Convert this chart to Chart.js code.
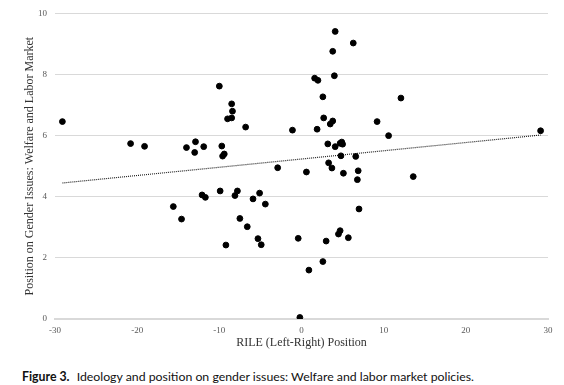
<!DOCTYPE html>
<html>
<head>
<meta charset="utf-8">
<script src="https://cdn.jsdelivr.net/npm/chart.js@4/dist/chart.umd.min.js"></script>
<style>
  body { margin: 0; background: #fff; }
  #wrap { position: relative; width: 564px; height: 360px; }
  #caption {
    position: absolute; left: 22px; top: 369px;
    font-family: Lato, "Open Sans", sans-serif; font-size: 12.3px; color: #111;
    white-space: nowrap;
  }
  #caption b { font-weight: 700; margin-right: 4px; }
</style>
</head>
<body>
<div id="wrap"><canvas id="fig"></canvas></div>
<div id="caption"><b>Figure 3.</b> Ideology and position on gender issues: Welfare and labor market policies.</div>
<script>
// party positions
const rile = [
  -29.1, -20.8, -19.1, -14.0, -13.0, -12.9, -11.9, -10.0, -9.7, -9.6,
  -9.4, -8.5, -8.4, -9.0, -8.5, -6.8, -1.1, -2.9, 4.1, 6.3,
  3.8, 1.6, 2.0, 4.0, 2.6, 12.1, 2.7, 3.5, 3.8, 9.2,
  1.9, 10.6, 29.1, 3.2, 4.1, 4.7, 4.9, 5.0, 4.8, 6.6,
  3.3, 3.7, 0.6, 5.1, 6.9, 6.8, 13.6, 7.0, -0.4, 3.0,
  4.5, 4.7, 5.7, 2.6, 0.9, -0.2, -15.6, -14.6, -12.1, -11.7,
  -9.9, -9.2, -8.1, -7.8, -7.5, -6.6, -5.9, -5.3, -5.1, -4.9,
  -4.4
];
const gender = [
  6.46, 5.74, 5.65, 5.61, 5.45, 5.80, 5.64, 7.62, 5.66, 5.33,
  5.40, 7.04, 6.80, 6.55, 6.58, 6.28, 6.18, 4.95, 9.41, 9.03,
  8.76, 7.88, 7.81, 7.96, 7.27, 7.23, 6.58, 6.38, 6.48, 6.46,
  6.21, 6.00, 6.16, 5.73, 5.64, 5.75, 5.79, 5.72, 5.34, 5.32,
  5.11, 4.94, 4.81, 4.77, 4.85, 4.56, 4.66, 3.60, 2.64, 2.55,
  2.78, 2.89, 2.66, 1.88, 1.60, 0.05, 3.68, 3.27, 4.06, 3.98,
  4.19, 2.42, 4.04, 4.19, 3.29, 3.02, 3.93, 2.63, 4.12, 2.43,
  3.76
];
// linear trend, endpoints
const trendX = [-29.1, 29.1];
const trendY = [4.45, 6.02];

const xTicks = [-30, -20, -10, 0, 10, 20, 30];
const yTicks = [0, 2, 4, 6, 8, 10];

const serif = '"Liberation Serif", "DejaVu Serif", serif';

new Chart(document.getElementById('fig'), {
  type: 'scatter',
  data: {
    datasets: [
      {
        data: rile.map((x, i) => ({ x, y: gender[i] })),
        backgroundColor: '#000',
        borderColor: '#000',
        pointRadius: 2.9,
        pointHoverRadius: 2.9,
      },
      {
        type: 'line',
        data: trendX.map((x, i) => ({ x, y: trendY[i] })),
        borderColor: '#222',
        borderWidth: 1.2,
        borderDash: [1, 1],
        pointRadius: 0,
        fill: false,
      },
    ],
  },
  options: {
    responsive: true,
    maintainAspectRatio: false,
    animation: false,
    layout: { padding: { left: 19, right: 16, top: 8, bottom: 6 } },
    plugins: { legend: { display: false }, tooltip: { enabled: false } },
    scales: {
      x: {
        type: 'linear',
        min: -30,
        max: 30,
        afterBuildTicks: (s) => { s.ticks = xTicks.map((v) => ({ value: v })); },
        afterFit: (s) => { s.height = 35; },
        grid: { display: false, drawTicks: false },
        border: { color: '#d9d9d9', width: 2 },
        ticks: { color: '#595959', font: { family: serif, size: 9 }, padding: 6 },
        title: {
          display: true,
          text: 'RILE (Left-Right) Position',
          color: '#333',
          font: { family: serif, size: 12 },
        },
      },
      y: {
        min: 0,
        max: 10,
        afterBuildTicks: (s) => { s.ticks = yTicks.map((v) => ({ value: v })); },
        afterFit: (s) => { s.width = 36; },
        grid: { color: '#d9d9d9', drawTicks: false },
        border: { display: false },
        ticks: { color: '#595959', font: { family: serif, size: 9 }, padding: 8 },
        title: {
          display: true,
          text: 'Position on Gender Issues: Welfare and Labor Market',
          color: '#333',
          font: { family: serif, size: 12 },
        },
      },
    },
  },
});
</script>
</body>
</html>
